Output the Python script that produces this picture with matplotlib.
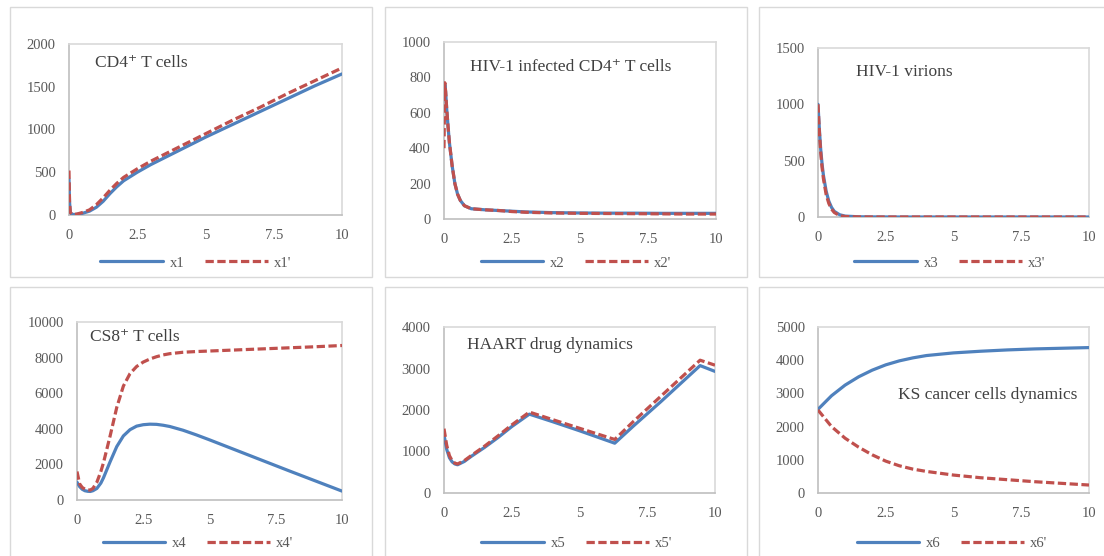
import matplotlib.pyplot as plt
from matplotlib.patches import Rectangle
from matplotlib.ticker import FuncFormatter

# ---- DATA ----
t1 = [0, 0.02, 0.05, 0.1, 0.2, 0.3, 0.5, 0.75, 1, 1.25, 1.5, 1.75, 2, 2.5, 3, 3.5, 4, 5, 6, 7, 8, 9, 10]
x1 = [420, 150, 30, 10, 5, 8, 20, 45, 90, 160, 250, 330, 400, 500, 590, 670, 750, 910, 1060, 1210, 1360, 1510, 1650]
x1p = [520, 150, 30, 10, 8, 12, 30, 60, 120, 200, 290, 370, 440, 540, 630, 710, 790, 950, 1110, 1260, 1420, 1570, 1720]

t2 = [0, 0.03, 0.06, 0.1, 0.15, 0.2, 0.3, 0.4, 0.5, 0.6, 0.75, 1, 1.5, 2, 2.5, 3, 4, 5, 6, 7, 8, 9, 10]
x2 = [700, 760, 720, 620, 520, 430, 300, 200, 140, 105, 75, 58, 52, 48, 44, 40, 36, 34, 33, 33, 32, 32, 32]
x2p = [400, 770, 720, 620, 520, 430, 300, 200, 140, 105, 75, 58, 52, 48, 42, 38, 34, 32, 31, 30, 29, 28, 28]

t3 = [0, 0.05, 0.1, 0.15, 0.2, 0.3, 0.4, 0.5, 0.6, 0.8, 1, 1.5, 2, 3, 4, 5, 6, 7, 8, 9, 10]
x3 = [1000, 780, 600, 470, 370, 230, 140, 85, 50, 20, 8, 2, 1, 0, 0, 0, 0, 0, 0, 0, 0]
x3p = [1000, 760, 570, 440, 340, 200, 120, 70, 40, 12, 4, 1, 0, 0, 0, 0, 0, 0, 0, 0, 0]

t4 = [0, 0.1, 0.2, 0.3, 0.4, 0.5, 0.6, 0.75, 0.9, 1, 1.25, 1.5, 1.75, 2, 2.25, 2.5, 2.75, 3, 3.25, 3.5,
      4, 4.5, 5, 6, 7, 8, 9, 10]
x4 = [1000, 750, 600, 520, 490, 480, 520, 650, 950, 1250, 2150, 3000, 3600, 3950, 4150, 4230, 4260, 4250,
      4200, 4130, 3920, 3660, 3380, 2800, 2220, 1640, 1070, 500]
x4p = [1600, 900, 700, 610, 570, 560, 650, 1000, 1600, 2100, 3600, 5200, 6400, 7100, 7500, 7750, 7920, 8050,
       8150, 8220, 8300, 8340, 8370, 8430, 8490, 8550, 8610, 8680]

t5 = [0, 0.1, 0.2, 0.3, 0.4, 0.5, 0.75, 1, 1.5, 2, 2.5, 3.15, 4, 5, 6.3, 7, 8, 9, 9.45, 10]
x5 = [1400, 1050, 850, 750, 700, 680, 760, 880, 1100, 1340, 1600, 1900, 1720, 1500, 1200, 1620, 2200, 2800, 3070, 2930]
x5p = [1550, 1150, 900, 780, 720, 700, 780, 900, 1130, 1380, 1640, 1950, 1770, 1560, 1290, 1730, 2330, 2930, 3200, 3080]

t6 = [0, 0.5, 1, 1.5, 2, 2.5, 3, 3.5, 4, 5, 6, 7, 8, 9, 10]
x6 = [2520, 2930, 3250, 3500, 3700, 3860, 3980, 4070, 4140, 4220, 4270, 4310, 4340, 4360, 4380]
x6p = [2500, 2000, 1650, 1380, 1150, 960, 820, 720, 650, 540, 460, 400, 340, 290, 240]

x_ticks = [0, 2.5, 5, 7.5, 10]

panels = [
    dict(t=t1, a=x1, b=x1p, names=("x1", "x1'"), title="CD4⁺ T cells", ymax=2000, ystep=500,
         box=(10, 7, 372, 277), ax=(69, 44, 342, 215), title_xy=(95, 63), leg=(196, 263)),
    dict(t=t2, a=x2, b=x2p, names=("x2", "x2'"), title="HIV-1 infected CD4⁺ T cells", ymax=1000, ystep=200,
         box=(385, 7, 747, 277), ax=(444, 42, 716, 219), title_xy=(470, 67), leg=(576, 263)),
    dict(t=t3, a=x3, b=x3p, names=("x3", "x3'"), title="HIV-1 virions", ymax=1500, ystep=500,
         box=(759, 7, 1115, 277), ax=(818, 48, 1089, 217), title_xy=(856, 72), leg=(950, 263)),
    dict(t=t4, a=x4, b=x4p, names=("x4", "x4'"), title="CS8⁺ T cells", ymax=10000, ystep=2000,
         box=(10, 287, 372, 565), ax=(77, 322, 342, 500), title_xy=(90, 337), leg=(198, 543)),
    dict(t=t5, a=x5, b=x5p, names=("x5", "x5'"), title="HAART drug dynamics", ymax=4000, ystep=1000,
         box=(385, 287, 747, 565), ax=(444, 327, 715, 493), title_xy=(467, 345), leg=(577, 543)),
    dict(t=t6, a=x6, b=x6p, names=("x6", "x6'"), title="KS cancer cells dynamics", ymax=5000, ystep=1000,
         box=(759, 287, 1115, 565), ax=(818, 327, 1089, 493), title_xy=(898, 395), leg=(952, 543)),
]

W, H = 1104, 556
BLUE = "#4F81BD"
RED = "#C0504D"
GRAY_TXT = "#595959"

plt.rcParams["font.family"] = ["Liberation Serif", "DejaVu Serif"]


def rect(x0, y0, x1, y1):
    return [x0 / W, 1 - y1 / H, (x1 - x0) / W, (y1 - y0) / H]


fig = plt.figure(figsize=(W / 100, H / 100), dpi=100)

for p in panels:
    # chart frame
    x0, y0, x1, y1 = p["box"]
    fig.patches.append(Rectangle((x0 / W, 1 - y1 / H), (x1 - x0) / W, (y1 - y0) / H,
                                 transform=fig.transFigure, fill=False,
                                 edgecolor="#D9D9D9", linewidth=1.0))

    ax = fig.add_axes(rect(*p["ax"]))
    la, = ax.plot(p["t"], p["a"], color=BLUE, lw=2.3, solid_capstyle="round",
                  solid_joinstyle="round", zorder=3)
    lb, = ax.plot(p["t"], p["b"], color=RED, lw=2.3, dashes=(2.6, 1.1),
                  dash_joinstyle="round", zorder=4)

    ax.set_xlim(0, 10)
    ax.set_ylim(0, p["ymax"])
    ax.set_xticks(x_ticks)
    ax.xaxis.set_major_formatter(FuncFormatter(lambda v, pos: f"{v:g}"))
    ax.set_yticks(range(0, p["ymax"] + 1, p["ystep"]))
    ax.tick_params(length=0, labelsize=10.5, labelcolor=GRAY_TXT)
    ax.tick_params(axis="y", pad=9.5)
    ax.tick_params(axis="x", pad=10)
    for side, sp in ax.spines.items():
        sp.set_color("#D9D9D9" if side in ("top", "right") else "#BFBFBF")
        sp.set_linewidth(1.2)

    tx, ty = p["title_xy"]
    fig.text(tx / W, 1 - ty / H, p["title"], fontsize=12.5, color="#404040",
             ha="left", va="center")

    lx, ly = p["leg"]
    fig.legend([la, lb], p["names"], loc="center", bbox_to_anchor=(lx / W, 1 - ly / H),
               ncol=2, frameon=False, fontsize=10.5, labelcolor=GRAY_TXT,
               handlelength=4.3, handletextpad=0.45, columnspacing=1.4)

fig.savefig("out.png", dpi=100)
